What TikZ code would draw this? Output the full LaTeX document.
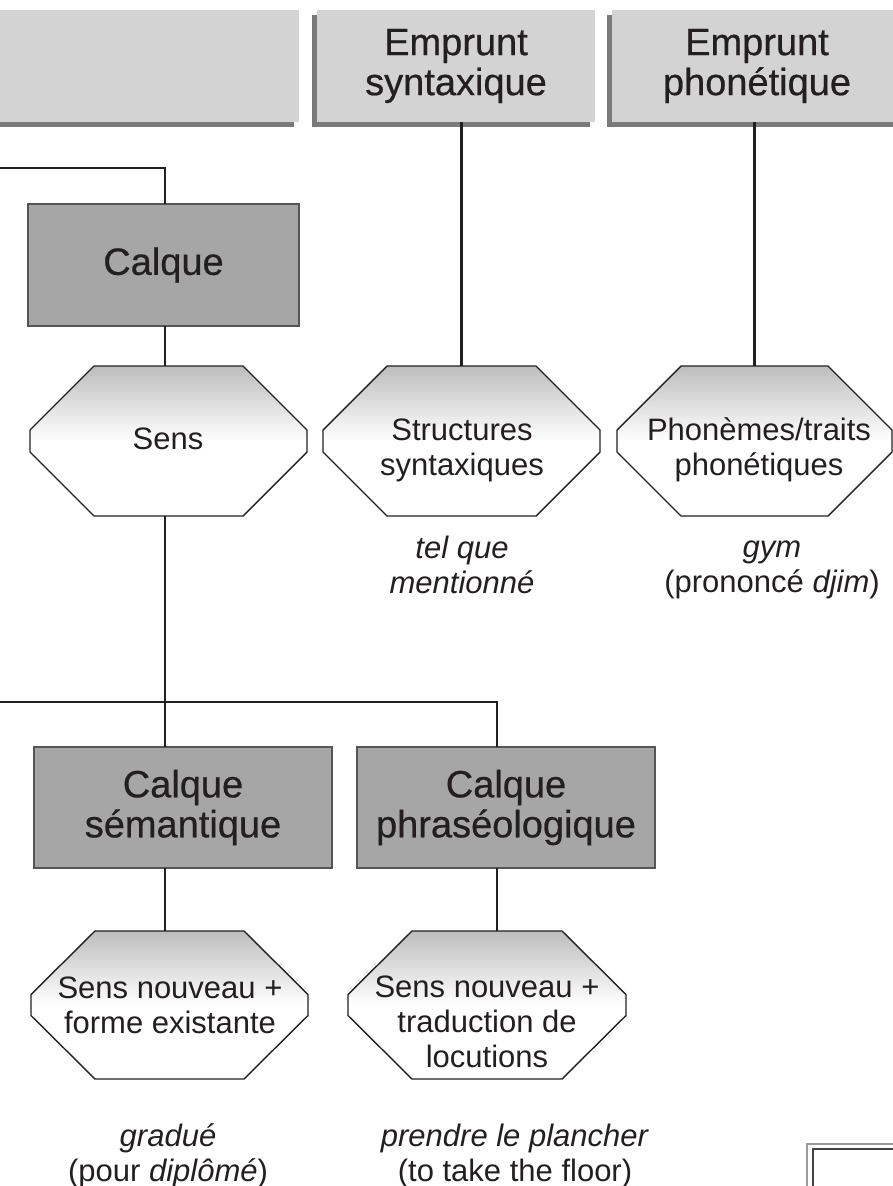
\documentclass[tikz,border=0pt]{standalone}
\usepackage{fontspec}
\setmainfont{Liberation Sans}
\newfontfamily\medfont{Liberation Sans}[FakeBold=0.6]
\usetikzlibrary{calc,shadows,backgrounds}
\definecolor{ink}{HTML}{231F20}
\definecolor{lightbox}{HTML}{D3D3D3}
\definecolor{shadowc}{HTML}{7A7A7A}
\definecolor{midbox}{HTML}{A6A6A6}
\definecolor{boxedge}{HTML}{555555}
\definecolor{hextop}{HTML}{BDBDBD}
\definecolor{framegray}{HTML}{9A9A9A}
\newcommand\bxfont{\medfont\fontsize{38}{40}\selectfont}
\newcommand\hxfont{\fontsize{31}{35}\selectfont}
\newcommand\hexpath[2]{%
  \path[hexfill] ($(#1.north west)+(64,0)$) -- ($(#1.north east)+(-64,0)$)
    -- ($(#1.east)+(0,-#2)$) -- ($(#1.east)+(0,#2)$)
    -- ($(#1.south east)+(-64,0)$) -- ($(#1.south west)+(64,0)$)
    -- ($(#1.west)+(0,#2)$) -- ($(#1.west)+(0,-#2)$) -- cycle;}
\begin{document}
\begin{tikzpicture}[x=1pt,y=-1pt,
  every node/.style={inner sep=0pt, outer sep=0pt},
  conn/.style={draw=ink, line width=2.2pt},
  headbox/.style={fill=lightbox, text=ink, font=\bxfont, align=center,
    general shadow={fill=shadowc, shadow xshift=-5pt, shadow yshift=-5pt}},
  calquebox/.style={fill=midbox, draw=boxedge, line width=1.5pt, text=ink,
    font=\bxfont, align=center},
  hexspot/.style={minimum width=#1, minimum height=150pt},
  hexlow/.style={minimum width=#1, minimum height=148pt},
  hexlabel/.style={text=ink, font=\hxfont, align=center},
  example/.style={text=ink, font=\hxfont, align=center},
  hexfill/.style={draw=ink, line width=1.4pt, top color=hextop,
    bottom color=white, middle color=white},
]
\useasboundingbox (0,0) rectangle (893,1186);

% header boxes
\node[headbox, minimum width=319pt, minimum height=112pt] (hA) at (139.5,66) {};
\node[headbox, minimum width=278pt, minimum height=112pt] (hB) at (456,66) {Emprunt\\syntaxique};
\node[headbox, minimum width=290pt, minimum height=112pt] (hC) at (757,66) {Emprunt\\phonétique};

% calque boxes
\node[calquebox, minimum width=271pt, minimum height=122pt] (calque) at (163.5,265) {Calque};
\node[calquebox, minimum width=298pt, minimum height=121pt] (sem) at (183,807.5) {Calque\\sémantique};
\node[calquebox, minimum width=298pt, minimum height=121pt] (phr) at (506,807.5) {Calque\\phraséologique};

% hexagon places
\node[hexspot=277pt] (sens) at (168.5,441) {};
\node[hexspot=277pt] (hstruct) at (461.5,441) {};
\node[hexspot=275pt] (hphon) at (754.5,441) {};
\node[hexlow=277pt] (hexA) at (169.5,1005) {};
\node[hexlow=278pt] (hexB) at (487,1005) {};
\hexpath{sens}{11}
\hexpath{hstruct}{11}
\hexpath{hphon}{11}
\hexpath{hexA}{10.5}
\hexpath{hexB}{10.5}

% hexagon labels
\node[hexlabel] (sensT) at (168,439) {Sens};
\node[hexlabel] (structT) at (462,450) {Structures\\syntaxiques};
\node[hexlabel] (phonT) at (759,450) {Phonèmes/traits\\phonétiques};
\node[hexlabel] (hexAT) at (170,1005) {Sens nouveau +\\forme existante};
\node[hexlabel] (hexBT) at (487,1022) {Sens nouveau +\\traduction de\\locutions};

% examples
\node[example] (exStruct) at (462,565) {\textit{tel que}\\\textit{mentionné}};
\node[example] (exPhon) at (772,570) {\textit{gym}\\(prononcé \textit{djim})};
\node[example] (exSem) at (168,1156) {\textit{gradué}\\(pour \textit{diplômé})};
\node[example] (exPhr) at (515,1156) {\textit{prendre le plancher}\\(to take the floor)};

% connectors
\coordinate (colA) at (165,0);
\coordinate (colB) at (497,0);
\coordinate (inL) at (-5,168);
\coordinate (jL) at (-5,702);
\draw[conn] (inL) -| (colA |- calque.north);
\draw[conn] (colA |- calque.south) -- (colA |- sens.north);
\draw[conn] (colA |- sens.south) -- (colA |- sem.north);
\draw[conn] (jL) -| (colB |- phr.north);
\draw[conn] (colA |- sem.south) -- (colA |- hexA.north);
\draw[conn] (colB |- phr.south) -- (colB |- hexB.north);
\draw[conn] (hstruct.north) -- (hstruct.north |- hB.south);
\draw[conn] (hphon.north) -- (hphon.north |- hC.south);

% corner frame bottom right
\draw[framegray, line width=1.5pt] (807,1190) -- (807,1144) -- (900,1144);
\draw[ink!85, line width=1.5pt] (813,1190) -- (813,1149) -- (900,1149);
\end{tikzpicture}
\end{document}
